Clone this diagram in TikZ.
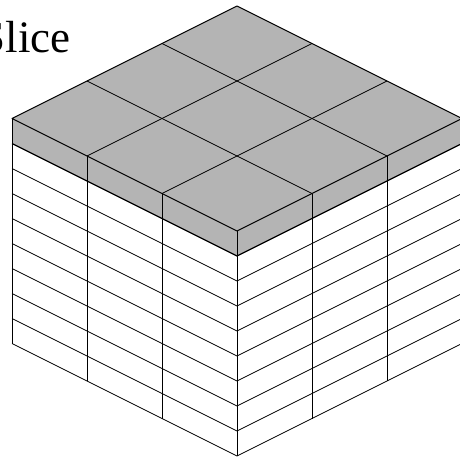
\documentclass[tikz,border=0pt]{standalone}
\usepackage{fontspec}
\setmainfont{Liberation Serif}
\definecolor{slabgray}{HTML}{B4B4B4}
\tikzset{
  gridline/.style={draw=black, line width=0.7pt},
  edgeline/.style={draw=black, line width=1pt},
  slabfill/.style={fill=slabgray},
}
\begin{document}
\begin{tikzpicture}[x=1pt,y=1pt,line join=round]
\useasboundingbox (0,0) rectangle (460,-458);
\clip (0,0) rectangle (460,-458);
\node[anchor=base east, inner sep=0pt, font=\fontsize{45}{50}\selectfont] (title) at (71,-52) {Slice};
\begin{scope}[shift={(237pt,-231pt)}, x={(-75pt,37.5pt)}, y={(75pt,37.5pt)}, z={(0pt,-25pt)}]
  % white lower faces
  \fill[white] (0,0,1) -- (3,0,1) -- (3,0,9) -- (0,0,9) -- cycle;
  \fill[white] (0,0,1) -- (0,3,1) -- (0,3,9) -- (0,0,9) -- cycle;
  % gray slab
  \fill[slabfill] (0,0,0) -- (3,0,0) -- (3,3,0) -- (0,3,0) -- cycle;
  \fill[slabfill] (0,0,0) -- (3,0,0) -- (3,0,1) -- (0,0,1) -- cycle;
  \fill[slabfill] (0,0,0) -- (0,3,0) -- (0,3,1) -- (0,0,1) -- cycle;
  % top grid
  \foreach \u in {1,2} {
    \draw[gridline] (\u,0,0) -- (\u,3,0);
    \draw[gridline] (0,\u,0) -- (3,\u,0);
  }
  % layer lines on both side faces
  \foreach \k in {2,...,8} {
    \draw[gridline] (3,0,\k) -- (0,0,\k) -- (0,3,\k);
  }
  \draw[gridline] (3,0,9) -- (0,0,9) -- (0,3,9);
  \draw[edgeline, line width=1.2pt] (3,0,1) -- (0,0,1) -- (0,3,1);
  % vertical edges
  \foreach \u in {1,2,3} {
    \draw[gridline] (\u,0,0) -- (\u,0,9);
    \draw[gridline] (0,\u,0) -- (0,\u,9);
  }
  \draw[gridline] (0,0,0) -- (0,0,9);
  % top outline
  \draw[edgeline] (0,0,0) -- (3,0,0) -- (3,3,0) -- (0,3,0) -- cycle;
\end{scope}
\end{tikzpicture}
\end{document}
